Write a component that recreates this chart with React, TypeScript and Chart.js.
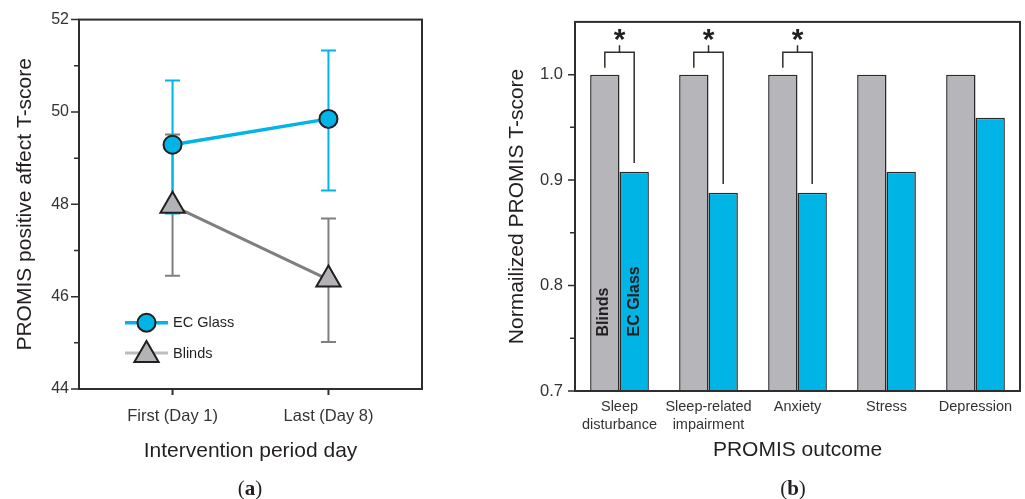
import React, { useEffect, useRef } from 'react';
import { Chart, registerables } from 'chart.js';

Chart.register(...registerables);

const FONT = "'Liberation Sans', Arial, Helvetica, sans-serif";
const INK = '#231f20';
const TICK_INK = '#333333';
const CYAN = '#00b4e6';
const GRAY_BAR = '#b6b6ba';
const GRAY_LINE = '#7f7f7f';
const GRAY_MARK = '#b3b3b7';

// ---------- Panel (a) data ----------
const dayLabels = ['First (Day 1)', 'Last (Day 8)'];
const ecGlassMean = [49.29, 49.85];
const ecGlassLow = [47.8, 48.3];
const ecGlassHigh = [50.68, 51.33];
const blindsMean = [47.97, 46.37];
const blindsLow = [46.45, 45.02];
const blindsHigh = [49.51, 47.69];
const aYTicks = [44, 46, 48, 50, 52];
const aYMinorTicks = [45, 47, 49, 51];

// ---------- Panel (b) data ----------
const outcomes = [
  ['Sleep', 'disturbance'],
  ['Sleep-related', 'impairment'],
  ['Anxiety'],
  ['Stress'],
  ['Depression'],
];
const blindsNorm = [1.0, 1.0, 1.0, 1.0, 1.0];
const ecGlassNorm = [0.908, 0.888, 0.888, 0.908, 0.959];
const significant = [true, true, true, false, false];
const bYTicks = [0.7, 0.8, 0.9, 1.0];
const bYMinorTicks = [0.75, 0.85, 0.95];

function drawTriangle(ctx: CanvasRenderingContext2D, cx: number, cy: number, r: number) {
  ctx.beginPath();
  ctx.moveTo(cx, cy - r);
  ctx.lineTo(cx + Math.sin((2 * Math.PI) / 3) * r, cy + 0.5 * r);
  ctx.lineTo(cx - Math.sin((2 * Math.PI) / 3) * r, cy + 0.5 * r);
  ctx.closePath();
}

const panelAPlugin = {
  id: 'panelA',
  beforeDatasetsDraw(chart: any) {
    const ctx = chart.ctx as CanvasRenderingContext2D;
    const xs = chart.scales.x;
    const ys = chart.scales.y;
    const groups = [
      { low: blindsLow, high: blindsHigh, color: GRAY_LINE },
      { low: ecGlassLow, high: ecGlassHigh, color: CYAN },
    ];
    ctx.save();
    groups.forEach((g) => {
      ctx.strokeStyle = g.color;
      ctx.lineWidth = 2;
      g.low.forEach((lo, i) => {
        const px = xs.getPixelForValue(i);
        const y1 = ys.getPixelForValue(lo);
        const y2 = ys.getPixelForValue(g.high[i]);
        ctx.beginPath();
        ctx.moveTo(px, y1);
        ctx.lineTo(px, y2);
        ctx.moveTo(px - 7.5, y1);
        ctx.lineTo(px + 7.5, y1);
        ctx.moveTo(px - 7.5, y2);
        ctx.lineTo(px + 7.5, y2);
        ctx.stroke();
      });
    });
    ctx.restore();
  },
  afterDraw(chart: any) {
    const ctx = chart.ctx as CanvasRenderingContext2D;
    const { left, right, top, bottom } = chart.chartArea;
    const xs = chart.scales.x;
    const ys = chart.scales.y;
    ctx.save();
    // frame
    ctx.strokeStyle = '#2e2e2e';
    ctx.lineWidth = 2;
    ctx.strokeRect(left, top, right - left, bottom - top);
    // y ticks
    ctx.lineWidth = 1.5;
    ctx.beginPath();
    aYTicks.forEach((v) => {
      const py = ys.getPixelForValue(v);
      ctx.moveTo(left - 8, py);
      ctx.lineTo(left, py);
    });
    aYMinorTicks.forEach((v) => {
      const py = ys.getPixelForValue(v);
      ctx.moveTo(left - 5, py);
      ctx.lineTo(left, py);
    });
    ctx.stroke();
    // x ticks
    ctx.lineWidth = 2;
    ctx.beginPath();
    dayLabels.forEach((_, i) => {
      const px = xs.getPixelForValue(i);
      ctx.moveTo(px, bottom);
      ctx.lineTo(px, bottom + 6);
    });
    ctx.stroke();

    // legend
    const lx0 = left + 46;
    const lx1 = left + 89;
    const mx = left + 67.5;
    const ey = bottom - 66.3;
    const by = bottom - 36;
    ctx.lineWidth = 3.5;
    ctx.strokeStyle = CYAN;
    ctx.beginPath();
    ctx.moveTo(lx0, ey);
    ctx.lineTo(lx1, ey);
    ctx.stroke();
    ctx.beginPath();
    ctx.arc(mx, ey, 9, 0, Math.PI * 2);
    ctx.fillStyle = CYAN;
    ctx.fill();
    ctx.lineWidth = 2;
    ctx.strokeStyle = INK;
    ctx.stroke();

    ctx.lineWidth = 3;
    ctx.strokeStyle = '#bdbdbd';
    ctx.beginPath();
    ctx.moveTo(lx0, by);
    ctx.lineTo(lx1, by);
    ctx.stroke();
    drawTriangle(ctx, mx, by + 2, 14);
    ctx.fillStyle = GRAY_MARK;
    ctx.fill();
    ctx.lineWidth = 2;
    ctx.strokeStyle = INK;
    ctx.stroke();

    ctx.fillStyle = INK;
    ctx.font = `14.5px ${FONT}`;
    ctx.textAlign = 'left';
    ctx.textBaseline = 'middle';
    ctx.fillText('EC Glass', left + 94, ey);
    ctx.fillText('Blinds', left + 94, by + 1);
    ctx.restore();
  },
};

const panelBPlugin = {
  id: 'panelB',
  afterDatasetsDraw(chart: any) {
    const ctx = chart.ctx as CanvasRenderingContext2D;
    const { left, right, top, bottom } = chart.chartArea;
    const xs = chart.scales.x;
    const ys = chart.scales.y;
    const m0 = chart.getDatasetMeta(0).data;
    const m1 = chart.getDatasetMeta(1).data;
    ctx.save();
    // frame
    ctx.strokeStyle = '#2e2e2e';
    ctx.lineWidth = 2;
    ctx.strokeRect(left, top, right - left, bottom - top);
    // y ticks
    ctx.lineWidth = 1.5;
    ctx.beginPath();
    bYTicks.forEach((v) => {
      const py = ys.getPixelForValue(v);
      ctx.moveTo(left - 7, py);
      ctx.lineTo(left, py);
    });
    bYMinorTicks.forEach((v) => {
      const py = ys.getPixelForValue(v);
      ctx.moveTo(left - 5, py);
      ctx.lineTo(left, py);
    });
    ctx.stroke();

    // significance brackets
    ctx.strokeStyle = '#2e2e2e';
    ctx.lineWidth = 1.5;
    ctx.fillStyle = INK;
    ctx.font = `bold 30px ${FONT}`;
    ctx.textAlign = 'center';
    ctx.textBaseline = 'alphabetic';
    const mt = ctx.measureText('*');
    const asc = mt.actualBoundingBoxAscent;
    const desc = mt.actualBoundingBoxDescent;
    significant.forEach((sig, i) => {
      if (!sig) return;
      const xl = m0[i].x;
      const xr = m1[i].x;
      const xc = xs.getPixelForValue(i);
      const yBar = ys.getPixelForValue(Math.max(blindsNorm[i], ecGlassNorm[i]));
      const yH = yBar - 22.4;
      const yL = ys.getPixelForValue(blindsNorm[i]) - 7;
      const yR = ys.getPixelForValue(ecGlassNorm[i]) - 8.7;
      ctx.beginPath();
      ctx.moveTo(xl, yL);
      ctx.lineTo(xl, yH);
      ctx.lineTo(xr, yH);
      ctx.lineTo(xr, yR);
      ctx.moveTo(xc, yH);
      ctx.lineTo(xc, yH - 7);
      ctx.stroke();
      const cy = yH - 17;
      ctx.fillText('*', xc, cy - (desc - asc) / 2);
    });

    // in-bar labels
    ctx.font = `bold 16px ${FONT}`;
    ctx.textAlign = 'left';
    ctx.textBaseline = 'middle';
    const labelBottom = bottom - 54.5;
    [
      { text: 'Blinds', x: m0[0].x - 1 },
      { text: 'EC Glass', x: m1[0].x + 0.5 },
    ].forEach((l) => {
      ctx.save();
      ctx.translate(l.x, labelBottom);
      ctx.rotate(-Math.PI / 2);
      ctx.fillStyle = INK;
      ctx.fillText(l.text, 0, 0);
      ctx.restore();
    });
    ctx.restore();
  },
};

export default function App() {
  const aRef = useRef<HTMLCanvasElement>(null);
  const bRef = useRef<HTMLCanvasElement>(null);

  useEffect(() => {
    const chartA = new Chart(aRef.current as HTMLCanvasElement, {
      type: 'line',
      data: {
        datasets: [
          {
            label: 'EC Glass',
            data: ecGlassMean.map((v, i) => ({ x: i, y: v })),
            borderColor: CYAN,
            borderWidth: 3.5,
            pointStyle: 'circle',
            pointRadius: 9,
            pointBackgroundColor: CYAN,
            pointBorderColor: INK,
            pointBorderWidth: 2,
          },
          {
            label: 'Blinds',
            data: blindsMean.map((v, i) => ({ x: i, y: v })),
            borderColor: GRAY_LINE,
            borderWidth: 3,
            pointStyle: 'triangle',
            pointRadius: 14,
            pointBackgroundColor: GRAY_MARK,
            pointBorderColor: INK,
            pointBorderWidth: 2,
          },
        ],
      },
      options: {
        responsive: false,
        animation: false,
        layout: { padding: { left: 0, top: 19, right: 48, bottom: 0 } },
        plugins: { legend: { display: false }, tooltip: { enabled: false } },
        scales: {
          x: {
            type: 'linear',
            min: -0.6,
            max: 1.6,
            grid: { display: false, drawTicks: false },
            border: { display: false },
            afterBuildTicks: (s: any) => {
              s.ticks = dayLabels.map((_, i) => ({ value: i }));
            },
            afterFit: (s: any) => {
              s.height = 110;
            },
            ticks: {
              padding: 17.5,
              color: TICK_INK,
              font: { family: FONT, size: 16.5 },
              callback: (v: any) => dayLabels[Number(v)] ?? '',
              maxRotation: 0,
            },
            title: {
              display: true,
              text: 'Intervention period day',
              color: INK,
              font: { family: FONT, size: 21 },
              padding: { top: 0, bottom: 34.7 },
            },
          },
          y: {
            min: 44,
            max: 52,
            grid: { display: false, drawTicks: false },
            border: { display: false },
            afterBuildTicks: (s: any) => {
              s.ticks = aYTicks.map((v) => ({ value: v }));
            },
            afterFit: (s: any) => {
              s.width = 79;
            },
            ticks: {
              padding: 10,
              color: TICK_INK,
              font: { family: FONT, size: 16 },
              callback: (v: any) => String(v),
            },
            title: {
              display: true,
              text: 'PROMIS positive affect T-score',
              color: INK,
              font: { family: FONT, size: 21 },
              padding: { top: 13, bottom: 0 },
            },
          },
        },
      } as any,
      plugins: [panelAPlugin],
    });

    const chartB = new Chart(bRef.current as HTMLCanvasElement, {
      type: 'bar',
      data: {
        labels: outcomes,
        datasets: [
          {
            label: 'Blinds',
            data: blindsNorm,
            backgroundColor: GRAY_BAR,
            borderColor: '#2a2a2a',
            borderWidth: 1.5,
            borderSkipped: false,
            categoryPercentage: 0.66,
            barPercentage: 1.0,
          },
          {
            label: 'EC Glass',
            data: ecGlassNorm,
            backgroundColor: CYAN,
            borderColor: '#2a2a2a',
            borderWidth: 1.5,
            borderSkipped: false,
            categoryPercentage: 0.66,
            barPercentage: 1.0,
          },
        ],
      },
      options: {
        responsive: false,
        animation: false,
        layout: { padding: { left: 0, top: 21, right: 5, bottom: 0 } },
        plugins: { legend: { display: false }, tooltip: { enabled: false } },
        scales: {
          x: {
            grid: { display: false, drawTicks: false },
            border: { display: false },
            afterFit: (s: any) => {
              s.height = 108;
            },
            ticks: {
              padding: 7,
              color: TICK_INK,
              font: { family: FONT, size: 14.5, lineHeight: 1.25 },
              maxRotation: 0,
              autoSkip: false,
            },
            title: {
              display: true,
              text: 'PROMIS outcome',
              color: INK,
              font: { family: FONT, size: 21 },
              padding: { top: 0, bottom: 35.7 },
            },
          },
          y: {
            min: 0.7,
            max: 1.05,
            grid: { display: false, drawTicks: false },
            border: { display: false },
            afterBuildTicks: (s: any) => {
              s.ticks = bYTicks.map((v) => ({ value: v }));
            },
            afterFit: (s: any) => {
              s.width = 105;
            },
            ticks: {
              padding: 12,
              color: TICK_INK,
              font: { family: FONT, size: 16.5 },
              callback: (v: any) => Number(v).toFixed(1),
            },
            title: {
              display: true,
              text: 'Normailized PROMIS T-score',
              color: INK,
              font: { family: FONT, size: 21 },
              padding: { top: 34.4, bottom: 0 },
            },
          },
        },
      } as any,
      plugins: [panelBPlugin],
    });

    return () => {
      chartA.destroy();
      chartB.destroy();
    };
  }, []);

  const caption = (cx: number): React.CSSProperties => ({
    position: 'absolute',
    left: cx - 40,
    width: 80,
    top: 476,
    textAlign: 'center',
    fontFamily: "'Liberation Serif', 'Times New Roman', serif",
    fontSize: 21,
    lineHeight: '24px',
    color: INK,
  });

  return (
    <div
      style={{
        position: 'absolute',
        left: 0,
        top: 0,
        width: 1025,
        height: 499,
        background: '#ffffff',
        overflow: 'hidden',
      }}
    >
      <canvas ref={aRef} width={470} height={499} style={{ position: 'absolute', left: 0, top: 0 }} />
      <canvas ref={bRef} width={555} height={499} style={{ position: 'absolute', left: 470, top: 0 }} />
      <div style={caption(250)}>
        (<b>a</b>)
      </div>
      <div style={caption(793)}>
        (<b>b</b>)
      </div>
    </div>
  );
}
